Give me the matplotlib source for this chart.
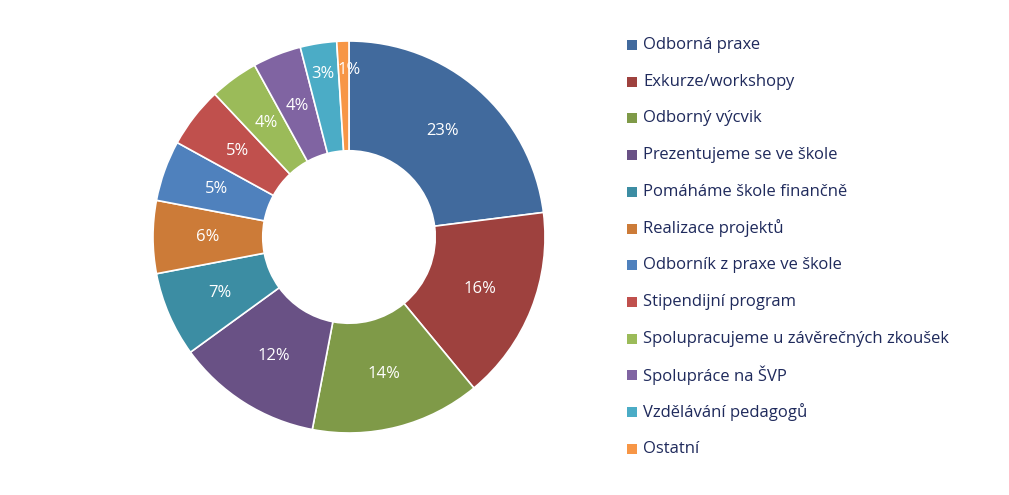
import matplotlib
matplotlib.use("Agg")
import matplotlib.pyplot as plt
from matplotlib.patches import Rectangle
import numpy as np

categories = ["Odborná praxe", "Exkurze/workshopy", "Odborný výcvik", "Prezentujeme se ve škole",
              "Pomáháme škole finančně", "Realizace projektů", "Odborník z praxe ve škole",
              "Stipendijní program", "Spolupracujeme u závěrečných zkoušek", "Spolupráce na ŠVP",
              "Vzdělávání pedagogů", "Ostatní"]
values = [23, 16, 14, 12, 7, 6, 5, 5, 4, 4, 3, 1]
colors = ["#416A9D", "#9E413E", "#7F9A48", "#695185", "#3C8DA3", "#CC7B38",
          "#4F81BD", "#C0504D", "#9BBB59", "#8064A2", "#4BACC6", "#F79646"]

W, H = 1009, 495
fig = plt.figure(figsize=(W/100, H/100), dpi=100)
cx, cy, r = 349, 237, 196
ax = fig.add_axes([(cx-r)/W, (H-cy-r)/H, 2*r/W, 2*r/H])
wedges, texts = ax.pie(values, colors=colors, startangle=90, counterclock=False, radius=1,
       wedgeprops=dict(width=0.56, edgecolor="white", linewidth=1.2))
ax.set_xlim(-1, 1); ax.set_ylim(-1, 1)
ax.set_aspect("equal")
ax.axis("off")

for i, (w, v) in enumerate(zip(wedges, values)):
    ang = np.deg2rad((w.theta1 + w.theta2) / 2)
    d = 0.72
    if i == len(values) - 1:
        ang, d = np.deg2rad(90), 0.85
    elif i == len(values) - 2:
        d = 0.84
    ax.text(d*np.cos(ang), d*np.sin(ang), f"{v}%", ha="center", va="center",
            color="white", fontsize=12, family="Open Sans")

y0, dy = 45, 36.7
for i, (c, col) in enumerate(zip(categories, colors)):
    y = y0 + i*dy
    fig.patches.append(Rectangle((627/W, (H-y-5)/H), 10/W, 10/H, transform=fig.transFigure,
                                 facecolor=col, edgecolor="none"))
    fig.text(643/W, (H-y)/H, c, va="center", ha="left", fontsize=12, family="Open Sans", color="#1F2A5C")

fig.savefig("out.png", dpi=100)
